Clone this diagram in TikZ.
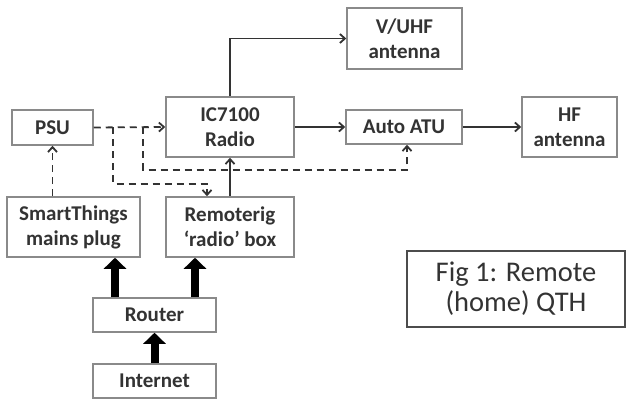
\documentclass[tikz,border=0pt]{standalone}
\usepackage{fontspec}
\setmainfont{Carlito}
\usepackage{tikz}
\usetikzlibrary{arrows.meta}
\definecolor{boxgray}{HTML}{8A8A8A}
\definecolor{inkgray}{HTML}{333333}

\begin{document}
\begin{tikzpicture}[x=1pt, y=-1pt, every node/.style={font=\bfseries\fontsize{21}{25}\selectfont, text=inkgray}]

% Define styles for boxes and links
\tikzstyle{blk} = [draw=boxgray, line width=1.5pt, fill=white, align=center, inner sep=0pt]
\tikzstyle{link} = [draw=inkgray, line width=1.8pt, -{Straight Barb[length=5pt,width=9pt]}]
\tikzstyle{ctrl} = [link, dash pattern=on 7pt off 5pt]
\tikzstyle{net} = [draw=black, line width=8pt, -{Triangle[width=22pt,length=11pt]}]

\useasboundingbox (0,0) rectangle (627,401);

% Radio side
\node[blk, minimum width=81pt, minimum height=35pt] (psu) at (52.5,127.5) {PSU};
\node[blk, minimum width=128pt, minimum height=60pt] (radio) at (230,127) {IC7100\\Radio};
\node[blk, minimum width=115pt, minimum height=61pt] (vuhf) at (404.5,38.5) {V/UHF\\antenna};
\node[blk, minimum width=116pt, minimum height=34pt] (atu) at (404,127) {Auto ATU};
\node[blk, minimum width=95pt, minimum height=60pt] (hf) at (569.5,127) {HF\\antenna};

% Control side
\node[blk, minimum width=133pt, minimum height=60pt] (smart) at (73.5,227) {SmartThings\\mains plug};
\node[blk, minimum width=128pt, minimum height=60pt] (rrig) at (230,227) {Remoterig\\‘radio’ box};
\node[blk, minimum width=123pt, minimum height=34pt] (router) at (154.5,315) {Router};
\node[blk, minimum width=123pt, minimum height=34pt] (inet) at (154.5,381) {Internet};

% Caption
\node[draw=black!70, line width=2pt, minimum width=218pt, minimum height=76pt, align=center,
  inner sep=0pt, font=\fontsize{28.5}{30}\selectfont] (fig) at (516,289) {Fig 1: Remote\\(home) QTH};

% RF links
\draw[link] (radio.north) |- (vuhf.west);
\draw[link] (radio.east) -- (atu.west);
\draw[link] (atu.east) -- (hf.west);
\draw[link] (rrig.north) -- (radio.south);

% Power / switching (dashed)
\coordinate (b1) at (113,127.5);
\coordinate (b2) at (143,127.5);
\coordinate (d1) at (207,184);
\coordinate (d2) at (407,170);
\draw[ctrl] (smart.north -| psu.south) -- (psu.south);
\draw[ctrl] (psu.east) -- (radio.west);
\draw[ctrl] (b1) |- (d1) -- (d1 |- rrig.north);
\draw[ctrl] (b2) |- (d2) -- (d2 |- atu.south);

% Network links
\coordinate (n1) at (115,0);
\coordinate (n2) at (195,0);
\draw[net] (router.north -| n1) -- (smart.south -| n1);
\draw[net] (router.north -| n2) -- (rrig.south -| n2);
\draw[net] (inet.north) -- (router.south);

\end{tikzpicture}
\end{document}
